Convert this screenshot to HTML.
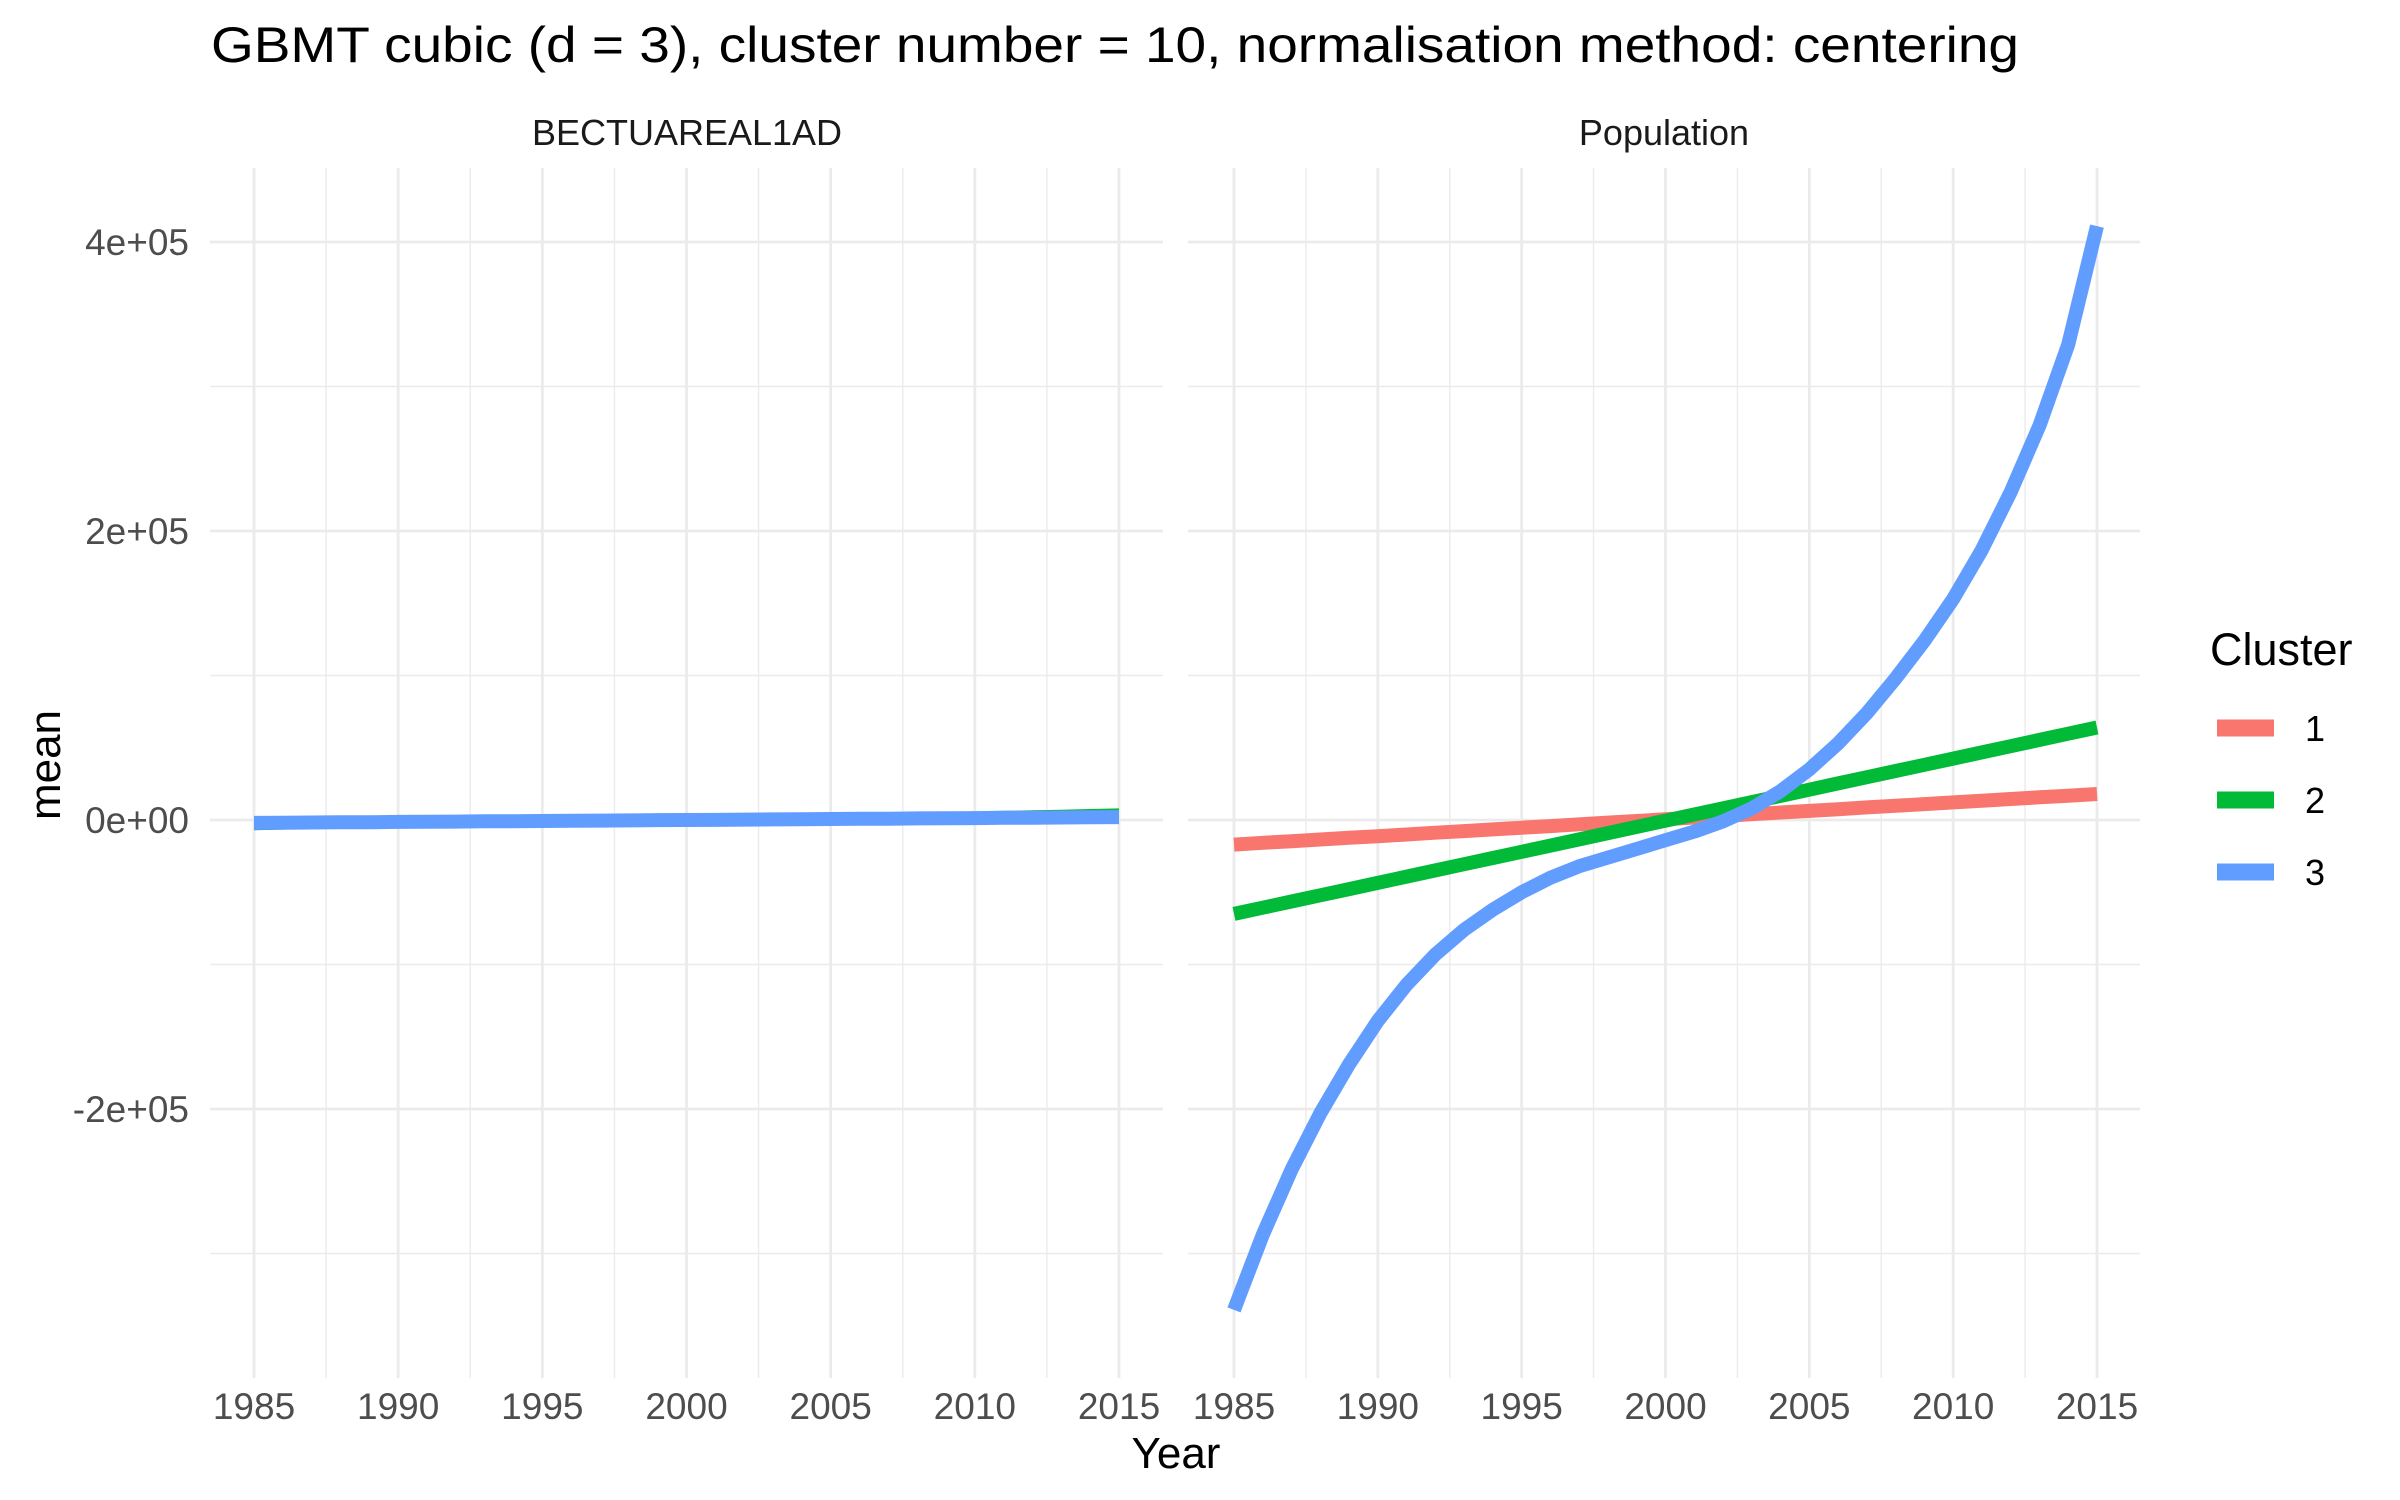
<!DOCTYPE html>
<html><head><meta charset="utf-8"><style>
html,body{margin:0;padding:0;background:#fff;}
svg{display:block;font-family:"Liberation Sans",Arial,sans-serif;}
</style></head><body>
<svg id="chart" width="2400" height="1500" viewBox="0 0 2400 1500" xmlns="http://www.w3.org/2000/svg">
<text x="211" y="62" font-size="50" fill="#000" textLength="1808" lengthAdjust="spacingAndGlyphs">GBMT cubic (d = 3), cluster number = 10, normalisation method: centering</text>
<text x="687" y="145" font-size="36" fill="#1a1a1a" text-anchor="middle">BECTUAREAL1AD</text>
<text x="1664" y="145" font-size="36" fill="#1a1a1a" text-anchor="middle">Population</text>
<text x="1176" y="1468" font-size="44" fill="#000" text-anchor="middle">Year</text>
<text transform="translate(60,765) rotate(-90)" font-size="44" fill="#000" text-anchor="middle">mean</text>
<g id="panels"></g>
<g>
<text x="2210" y="665" font-size="45" fill="#000">Cluster</text>
<line x1="2217" x2="2274" y1="728" y2="728" stroke="#F8766D" stroke-width="17"/>
<line x1="2217" x2="2274" y1="800" y2="800" stroke="#00BA38" stroke-width="17"/>
<line x1="2217" x2="2274" y1="872" y2="872" stroke="#619CFF" stroke-width="17"/>
<text x="2305" y="741" font-size="36" fill="#000">1</text>
<text x="2305" y="813" font-size="36" fill="#000">2</text>
<text x="2305" y="885" font-size="36" fill="#000">3</text>
</g>
</svg>
<script>
const years = [1985,1986,1987,1988,1989,1990,1991,1992,1993,1994,1995,1996,1997,1998,1999,2000,2001,2002,2003,2004,2005,2006,2007,2008,2009,2010,2011,2012,2013,2014,2015];
const popC1 = [-17000,-15800,-14700,-13500,-12300,-11200,-10000,-8800,-7700,-6500,-5300,-4200,-3000,-1800,-700,500,1700,2800,4000,5200,6300,7500,8700,9800,11000,12200,13300,14500,15700,16800,18000];
const popC2 = [-65000,-60700,-56400,-52100,-47800,-43500,-39200,-34900,-30600,-26300,-22000,-17700,-13400,-9100,-4800,-500,3800,8100,12400,16700,21000,25300,29600,33900,38200,42500,46800,51100,55400,59700,64000];
const popC3 = [-339000,-287000,-242000,-203000,-169000,-139000,-114000,-93000,-76000,-62000,-50000,-40000,-32000,-26000,-20000,-14000,-8000,-1000,8000,20000,35000,53000,74000,98000,124000,153000,187000,227000,273000,329000,411000];
const bectC1 = [-1000,-900,-800,-700,-600,-500,-400,-300,-200,-100,0,100,200,300,400,500,600,700,800,900,1000,1100,1200,1300,1400,1500,1600,1700,1800,1900,2000];
const bectC2 = [-6000,-5600,-5100,-4700,-4300,-3800,-3400,-3000,-2500,-2100,-1700,-1200,-800,-400,100,500,900,1400,1800,2200,2700,3100,3500,4000,4400,4800,5300,5700,6100,6600,7000];
const bectC3 = [-2000,-1900,-1700,-1600,-1500,-1300,-1200,-1100,-900,-800,-700,-500,-400,-300,-100,0,100,300,400,500,700,800,900,1100,1200,1300,1500,1600,1700,1900,2000];
const xTicks = [1985,1990,1995,2000,2005,2010,2015];
const xMinor = [1987.5,1992.5,1997.5,2002.5,2007.5,2012.5];
const yTicks = [400000,200000,0,-200000];
const yTickLabels = ["4e+05","2e+05","0e+00","-2e+05"];
const yMinor = [300000,100000,-100000,-300000];

const NS="http://www.w3.org/2000/svg";
const g=document.getElementById('panels');
function yS(v){return 820-(v/200000)*289;}
const panelsDef=[
 {name:'bectuareal1ad',left:210,right:1163,x0:254,x1:1119,series:[bectC1,bectC2,bectC3],axis:true},
 {name:'population',left:1188,right:2140,x0:1234,x1:2097,series:[popC1,popC2,popC3],axis:false}
];
const colors=['#F8766D','#00BA38','#619CFF'];
function mk(tag,attrs){const e=document.createElementNS(NS,tag);for(const k in attrs)e.setAttribute(k,attrs[k]);return e;}
panelsDef.forEach(p=>{
 const xS=v=>p.x0+(v-1985)/30*(p.x1-p.x0);
 const pg=mk('g',{});
 
 
 g.appendChild(pg);
 yMinor.forEach(v=>{const l=mk('line',{x1:p.left,x2:p.right,y1:yS(v),y2:yS(v),stroke:'#EBEBEB','stroke-width':1.4});
  
  
  pg.appendChild(l);});
 xMinor.forEach(v=>{const l=mk('line',{x1:xS(v),x2:xS(v),y1:168,y2:1378,stroke:'#EBEBEB','stroke-width':1.4});
  
  
  pg.appendChild(l);});
 yTicks.forEach((v,i)=>{const l=mk('line',{x1:p.left,x2:p.right,y1:yS(v),y2:yS(v),stroke:'#EBEBEB','stroke-width':2.8});
  
  
  pg.appendChild(l);
  if(p.axis){const t=mk('text',{x:189,y:yS(v)+13,'font-size':37,fill:'#4d4d4d','text-anchor':'end'});
   t.textContent=yTickLabels[i];
   
   
   pg.appendChild(t);}
 });
 xTicks.forEach(v=>{const l=mk('line',{x1:xS(v),x2:xS(v),y1:168,y2:1378,stroke:'#EBEBEB','stroke-width':2.8});
  
  
  pg.appendChild(l);
  const t=mk('text',{x:xS(v),y:1419,'font-size':37,fill:'#4d4d4d','text-anchor':'middle'});
  t.textContent=v;
  
  
  pg.appendChild(t);
 });
 p.series.forEach((s,i)=>{
  const d=s.map((v,j)=>(j?'L':'M')+xS(years[j]).toFixed(1)+','+yS(v).toFixed(1)).join(' ');
  const path=mk('path',{d:d,fill:'none',stroke:colors[i],'stroke-width':p.axis&&i<2?3:14,'stroke-linejoin':'round'});
  
  
  pg.appendChild(path);
 });
});
</script>
</body></html>
